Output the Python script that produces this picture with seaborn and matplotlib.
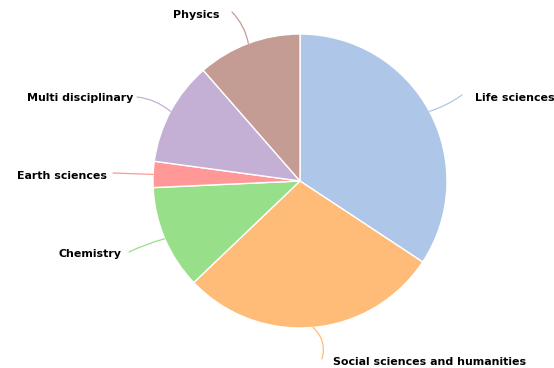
import numpy as np
import matplotlib
matplotlib.use('Agg')
import matplotlib.pyplot as plt
import seaborn as sns

# publication counts by field
fields = ['Life sciences', 'Social sciences and humanities', 'Chemistry',
          'Earth sciences', 'Multi disciplinary', 'Physics']
counts = [12, 10, 4, 1, 4, 4]

W, H = 554, 368
CX, CY, R = 300, 181, 147


def to_data(px, py):
    # pixel position in the figure -> pie units
    return (px - CX) / R, (CY - py) / R


# label text anchors and connector ends (pixels)
label_pos = {'Life sciences': ((475, 98), 'left', (462, 95), -0.08),
             'Social sciences and humanities': ((333, 362), 'left', (322, 359), 0.3),
             'Chemistry': ((121, 254), 'right', (129, 252), -0.05),
             'Earth sciences': ((107, 176), 'right', (113, 173), 0.0),
             'Multi disciplinary': ((133, 98), 'right', (137, 97), -0.15),
             'Physics': ((220, 15), 'right', (232, 12), -0.15)}


def main():
    sns.set_theme(style='white')
    plt.rcParams['font.family'] = ['DejaVu Sans']

    pal = sns.color_palette('tab20', 12)
    colors = [pal[i] for i in (1, 3, 5, 7, 9, 11)]

    fig = plt.figure(figsize=(W / 100, H / 100), dpi=100)
    ax = fig.add_axes([0, 0, 1, 1])
    wedges, _ = ax.pie(counts, colors=colors, startangle=90, counterclock=False,
                       radius=1.0, center=(0, 0),
                       wedgeprops={'edgecolor': 'white', 'linewidth': 1.0})

    x0, y0 = to_data(0, H)
    x1, y1 = to_data(W, 0)
    ax.set_xlim(x0, x1)
    ax.set_ylim(y0, y1)
    ax.set_aspect('auto')
    ax.axis('off')

    for w, name, c in zip(wedges, fields, colors):
        mid = np.deg2rad((w.theta1 + w.theta2) / 2)
        anchor = (np.cos(mid), np.sin(mid))
        (tx, ty), ha, (ex, ey), rad = label_pos[name]
        ax.annotate('', xy=anchor, xytext=to_data(ex, ey),
                    arrowprops=dict(arrowstyle='-', color=c, lw=0.9,
                                    shrinkA=0, shrinkB=0,
                                    connectionstyle=f'arc3,rad={rad}'))
        ax.text(*to_data(tx, ty), name, ha=ha, va='center',
                fontsize=7.9, fontweight='bold', color='black')

    fig.savefig('out.png', dpi=100)
    plt.close(fig)


if __name__ == '__main__':
    main()
